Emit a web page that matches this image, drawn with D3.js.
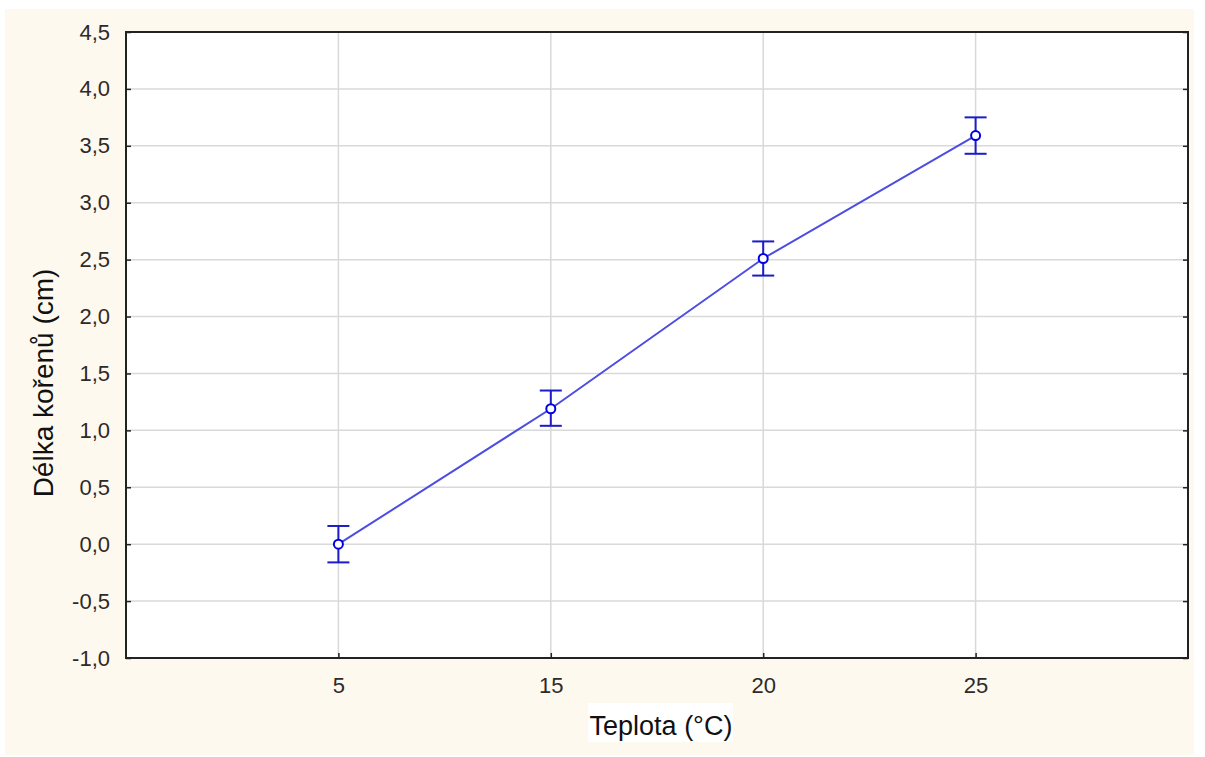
<!DOCTYPE html>
<html><head><meta charset="utf-8">
<script src="https://cdn.jsdelivr.net/npm/d3@7"></script>
<style>body{margin:0;background:#fff;}svg{display:block;}</style>
</head><body>
<script>
const categories = ["5", "15", "20", "25"];
const means = [0.0, 1.19, 2.51, 3.59];
const errLow = [-0.16, 1.04, 2.36, 3.43];
const errHigh = [0.16, 1.35, 2.66, 3.75];
const yTicks = [-1.0, -0.5, 0.0, 0.5, 1.0, 1.5, 2.0, 2.5, 3.0, 3.5, 4.0, 4.5];
const xTitle = "Teplota (°C)";
const yTitle = "Délka kořenů (cm)";

const W = 1205, H = 757;
const FONT = "Liberation Sans, Arial, sans-serif";
const svg = d3.select("body").append("svg").attr("width", W).attr("height", H);
svg.append("rect").attr("x", 5).attr("y", 9).attr("width", 1189).attr("height", 746).attr("fill", "#fdf9ef");

const L = 126, R = 1188, T = 32, B = 658;
const x = d3.scalePoint().domain(categories).range([L, R]).padding(1);
const y = d3.scaleLinear().domain([-1, 4.5]).range([B, T]);

svg.append("rect").attr("x", L).attr("y", T).attr("width", R - L).attr("height", B - T).attr("fill", "#fff");

// grid
svg.append("g").selectAll("line").data(yTicks.slice(1, -1)).join("line")
  .attr("x1", L).attr("x2", R).attr("y1", d => y(d)).attr("y2", d => y(d))
  .attr("stroke", "#d9d9d9").attr("stroke-width", 1.5);
svg.append("g").selectAll("line").data(categories).join("line")
  .attr("x1", d => x(d)).attr("x2", d => x(d)).attr("y1", T).attr("y2", B)
  .attr("stroke", "#d9d9d9").attr("stroke-width", 1.5);

// axes
const fmt = d => d.toFixed(1).replace(".", ",");
const yAxis = svg.append("g").attr("transform", `translate(${L},0)`)
  .call(d3.axisLeft(y).tickValues(yTicks).tickFormat(fmt).tickSize(-5).tickPadding(16));
yAxis.select(".domain").remove();
yAxis.selectAll("text").attr("font-family", FONT).attr("font-size", 22).attr("fill", "#2e2a2a");
yAxis.selectAll("line").attr("stroke", "#222").attr("stroke-width", 1.5);

const yAxisR = svg.append("g").attr("transform", `translate(${R},0)`)
  .call(d3.axisRight(y).tickValues(yTicks).tickFormat("").tickSize(-5));
yAxisR.select(".domain").remove();
yAxisR.selectAll("line").attr("stroke", "#222").attr("stroke-width", 1.5);

const xAxis = svg.append("g").attr("transform", `translate(0,${B})`)
  .call(d3.axisBottom(x).tickSize(-5).tickPadding(19));
xAxis.select(".domain").remove();
xAxis.selectAll("text").attr("font-family", FONT).attr("font-size", 22).attr("fill", "#2e2a2a");
xAxis.selectAll("line").attr("stroke", "#222").attr("stroke-width", 1.5);

svg.append("rect").attr("x", L).attr("y", T).attr("width", R - L).attr("height", B - T)
  .attr("fill", "none").attr("stroke", "#222").attr("stroke-width", 2);

// data line
const data = categories.map((c, i) => ({c, m: means[i], lo: errLow[i], hi: errHigh[i]}));
svg.append("path").datum(data)
  .attr("d", d3.line().x(d => x(d.c)).y(d => y(d.m)))
  .attr("fill", "none").attr("stroke", "#4d4de0").attr("stroke-width", 2);

const eb = svg.append("g").attr("stroke", "#1c1cc8").attr("stroke-width", 2).attr("fill", "none");
eb.selectAll(".v").data(data).join("line")
  .attr("x1", d => x(d.c)).attr("x2", d => x(d.c)).attr("y1", d => y(d.lo)).attr("y2", d => y(d.hi));
eb.selectAll(".t").data(data).join("line")
  .attr("x1", d => x(d.c) - 11).attr("x2", d => x(d.c) + 11).attr("y1", d => y(d.hi)).attr("y2", d => y(d.hi));
eb.selectAll(".b").data(data).join("line")
  .attr("x1", d => x(d.c) - 11).attr("x2", d => x(d.c) + 11).attr("y1", d => y(d.lo)).attr("y2", d => y(d.lo));
svg.append("g").selectAll("circle").data(data).join("circle")
  .attr("cx", d => x(d.c)).attr("cy", d => y(d.m)).attr("r", 4.5)
  .attr("fill", "#fff").attr("stroke", "#0000e6").attr("stroke-width", 2);

// titles
svg.append("rect").attr("x", 588).attr("y", 703).attr("width", 145).attr("height", 39).attr("fill", "#fff");
svg.append("text").attr("x", 661).attr("y", 735).attr("text-anchor", "middle")
  .attr("font-family", FONT).attr("font-size", 27).attr("fill", "#111").text(xTitle);
svg.append("text").attr("transform", `translate(53,383) rotate(-90)`).attr("text-anchor", "middle")
  .attr("font-family", FONT).attr("font-size", 28).attr("fill", "#111").text(yTitle);
</script>
</body></html>
